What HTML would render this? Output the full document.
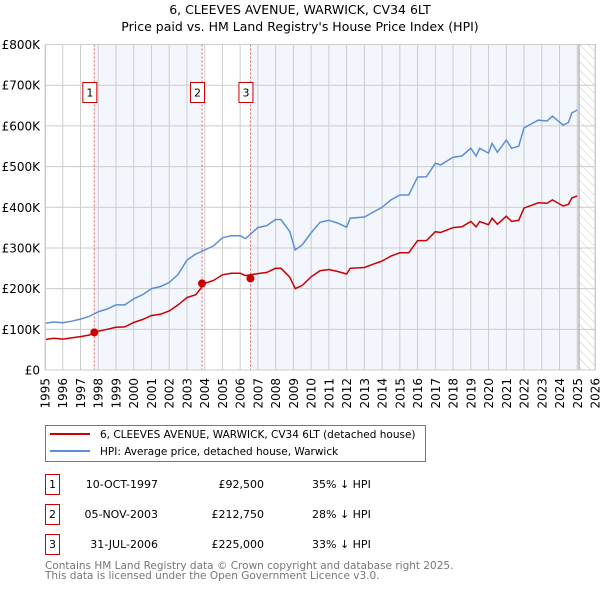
<!DOCTYPE html>
<html><head><meta charset="utf-8"><style>
body{margin:0;background:#fff;width:600px;height:590px;overflow:hidden;font-family:"DejaVu Sans","Liberation Sans",sans-serif}
svg text{font-family:"DejaVu Sans","Liberation Sans",sans-serif}
</style></head><body>
<svg id="chart" width="600" height="590" xmlns="http://www.w3.org/2000/svg">
<defs><pattern id="hatch" width="6" height="6" patternUnits="userSpaceOnUse" patternTransform="rotate(-45)"><line x1="0" y1="0" x2="0" y2="6" stroke="#ccc" stroke-width="1"/></pattern></defs>
<text x="300" y="14" text-anchor="middle" font-size="12.5">6, CLEEVES AVENUE, WARWICK, CV34 6LT</text>
<text x="300" y="31" text-anchor="middle" font-size="12.5">Price paid vs. HM Land Registry's House Price Index (HPI)</text>
<g id="bg"></g><g id="grid"></g><g id="series"></g><g id="axes"></g>
<rect x="45.5" y="425.5" width="380" height="36" fill="#fff" stroke="#777"/>
<line x1="50" y1="434" x2="90" y2="434" stroke="#cc0000" stroke-width="2"/>
<text x="100" y="438" font-size="10.5">6, CLEEVES AVENUE, WARWICK, CV34 6LT (detached house)</text>
<line x1="50" y1="451" x2="90" y2="451" stroke="#5b8fd6" stroke-width="2"/>
<text x="100" y="455" font-size="10.5">HPI: Average price, detached house, Warwick</text>
<g id="table" font-size="11"></g>
<text x="45" y="569" font-size="10.5" fill="#777">Contains HM Land Registry data © Crown copyright and database right 2025.</text>
<text x="45" y="579" font-size="10.5" fill="#777">This data is licensed under the Open Government Licence v3.0.</text>
</svg>
<script>
const hpiDates=[1995,1995.5,1996,1996.5,1997,1997.5,1998,1998.5,1999,1999.5,2000,2000.5,2001,2001.5,2002,2002.5,2003,2003.5,2004,2004.5,2005,2005.5,2006,2006.3,2007,2007.5,2008,2008.3,2008.8,2009.1,2009.5,2010,2010.5,2011,2011.5,2012,2012.2,2013,2013.5,2014,2014.5,2015,2015.5,2016,2016.5,2017,2017.3,2018,2018.5,2019,2019.3,2019.5,2020,2020.2,2020.5,2021,2021.3,2021.7,2022,2022.5,2022.8,2023.3,2023.6,2024.2,2024.5,2024.7,2025];
const hpiValues=[115,118,116,120,125,132,143,150,160,160,175,185,200,205,215,235,270,285,295,305,325,330,330,323,350,355,370,370,340,295,308,337,363,368,361,351,373,376,388,400,418,430,430,474,475,508,504,523,526,545,526,545,533,557,535,565,545,550,595,607,614,612,624,602,608,632,639];
const propValues=[75,78,76,79,82,86,95,100,105,106,117,124,134,137,145,160,178,185,213,220,234,238,238,232,237,240,250,250,228,200,208,229,244,247,242,236,250,252,260,268,280,288,288,318,318,340,338,350,352,365,352,365,357,373,358,378,365,368,398,406,411,410,418,403,407,423,428];
const saleDates=[1997.78,2003.85,2006.58];
const salePrices=[92.5,212.75,225];
const saleLabels=["1","2","3"];
const saleDateText=["10-OCT-1997","05-NOV-2003","31-JUL-2006"];
const salePriceText=["£92,500","£212,750","£225,000"];
const salePctText=["35% ↓ HPI","28% ↓ HPI","33% ↓ HPI"];
const yTicks=[0,100,200,300,400,500,600,700,800];
const yTickLabels=["£0","£100K","£200K","£300K","£400K","£500K","£600K","£700K","£800K"];
const xYears=[];for(let y=1995;y<=2026;y++)xYears.push(y);
const X0=45,X1=595,Y0=370,Y1=44.5,XMIN=1995,XMAX=2026,YMAX=800,DATA_END=2025.1;
const sx=v=>X0+(v-XMIN)/(XMAX-XMIN)*(X1-X0);
const sy=v=>Y0-v/YMAX*(Y0-Y1);
const NS="http://www.w3.org/2000/svg";
function mk(p,t,a){const e=document.createElementNS(NS,t);for(const k in a)e.setAttribute(k,a[k]);p.appendChild(e);return e;}
const bg=document.getElementById('bg'),grid=document.getElementById('grid'),ser=document.getElementById('series'),ax=document.getElementById('axes'),tb=document.getElementById('table');
let r=mk(bg,'rect',{x:X0,y:Y1,width:X1-X0,height:Y0-Y1,fill:'#fff'});


r=mk(bg,'rect',{x:sx(saleDates[0]),y:Y1,width:sx(saleDates[1])-sx(saleDates[0]),height:Y0-Y1,fill:'#f3f6fd'});


r=mk(bg,'rect',{x:sx(saleDates[2]),y:Y1,width:sx(DATA_END)-sx(saleDates[2]),height:Y0-Y1,fill:'#f3f6fd'});


r=mk(bg,'rect',{x:sx(DATA_END),y:Y1,width:X1-sx(DATA_END),height:Y0-Y1,fill:'url(#hatch)'});


xYears.forEach(y=>{const l=mk(grid,'line',{x1:sx(y),x2:sx(y),y1:Y1,y2:Y0,stroke:'#ccc','stroke-width':1});


const t=mk(ax,'text',{x:0,y:0,transform:`translate(${sx(y)+4.5},${Y0+8}) rotate(-90)`,'text-anchor':'end','font-size':12});t.textContent=y;

});
yTicks.forEach((v,i)=>{const l=mk(grid,'line',{x1:X0,x2:X1,y1:sy(v),y2:sy(v),stroke:'#ccc','stroke-width':1});


const t=mk(ax,'text',{x:X0-5,y:sy(v)+4.5,'text-anchor':'end','font-size':12});t.textContent=yTickLabels[i];

});
let l=mk(grid,'line',{x1:sx(DATA_END),x2:sx(DATA_END),y1:Y1,y2:Y0,stroke:'#999','stroke-width':1});


saleDates.forEach((d,i)=>{const l=mk(grid,'line',{x1:sx(d),x2:sx(d),y1:Y1,y2:Y0,stroke:'#e06060','stroke-width':1,'stroke-dasharray':'2,2'});


const b=mk(ax,'rect',{x:sx(d)-11.5,y:82.5,width:14,height:20,fill:'#fff',stroke:'#cc0000'});


const t=mk(ax,'text',{x:sx(d)-4.5,y:96.5,'text-anchor':'middle','font-size':11});t.textContent=saleLabels[i];

});
const path=(vals)=>hpiDates.map((d,i)=>(i?'L':'M')+sx(d).toFixed(1)+','+sy(vals[i]).toFixed(1)).join('');
let p=mk(ser,'path',{d:path(hpiValues),fill:'none',stroke:'#5b8fd6','stroke-width':1.5});


p=mk(ser,'path',{d:path(propValues),fill:'none',stroke:'#cc0000','stroke-width':1.5});


saleDates.forEach((d,i)=>{const c=mk(ser,'circle',{cx:sx(d),cy:sy(salePrices[i]),r:4,fill:'#cc0000'});

});
mk(ax,'rect',{x:X0+0.5,y:Y1,width:X1-X0,height:Y0-Y1,fill:'none',stroke:'#ccc'});
saleDates.forEach((d,i)=>{const cy=485+i*30;
const b=mk(tb,'rect',{x:45.5,y:cy-10.5,width:14,height:20,fill:'#fff',stroke:'#cc0000'});


let t=mk(tb,'text',{x:52.5,y:cy+3,'text-anchor':'middle'});t.textContent=saleLabels[i];


t=mk(tb,'text',{x:158,y:cy+3,'text-anchor':'end'});t.textContent=saleDateText[i];


t=mk(tb,'text',{x:264,y:cy+3,'text-anchor':'end'});t.textContent=salePriceText[i];


t=mk(tb,'text',{x:312,y:cy+3});t.textContent=salePctText[i];

});
</script>
</body></html>
